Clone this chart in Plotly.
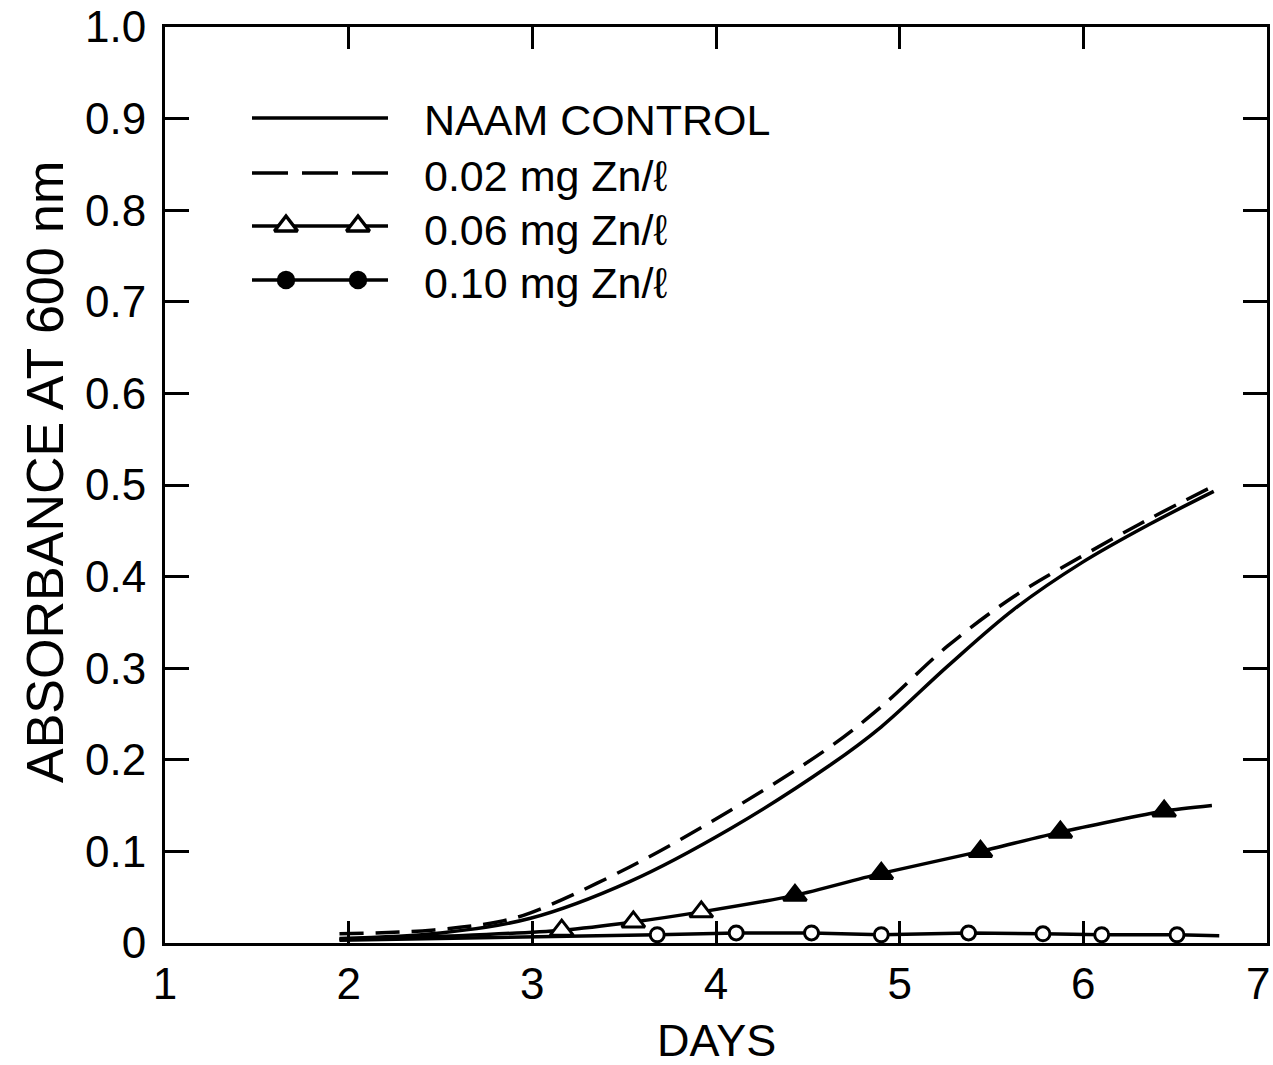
import plotly.graph_objects as go

# ---------------- data ----------------
control_days = [1.95, 2.5, 2.99, 3.53, 4.08, 4.62, 4.90, 5.26, 5.62, 5.99, 6.35, 6.71]
control_abs  = [0.005, 0.011, 0.027, 0.067, 0.125, 0.194, 0.236, 0.302, 0.364, 0.415, 0.456, 0.493]

zn002_days = [1.95, 2.45, 2.81, 2.99, 3.53, 4.08, 4.62, 4.90, 5.26, 5.62, 5.99, 6.35, 6.71]
zn002_abs  = [0.010, 0.014, 0.023, 0.033, 0.083, 0.145, 0.214, 0.258, 0.324, 0.378, 0.422, 0.462, 0.499]

zn006_days = [1.95, 2.6, 3.16, 3.55, 3.92, 4.43, 4.90, 5.44, 5.875, 6.44, 6.70]
zn006_abs  = [0.004, 0.008, 0.014, 0.023, 0.034, 0.052, 0.076, 0.100, 0.121, 0.144, 0.150]
zn006_first_marker = 2

zn010_days = [1.95, 2.6, 3.2, 3.68, 4.11, 4.52, 4.90, 5.375, 5.78, 6.10, 6.51, 6.74]
zn010_abs  = [0.003, 0.005, 0.007, 0.009, 0.011, 0.011, 0.009, 0.011, 0.010, 0.009, 0.009, 0.008]
zn010_first_marker = 3

x_ticks = [1, 2, 3, 4, 5, 6, 7]
x_ticktext = ["1", "2", "3", "4", "5", "6", "7"]
y_ticks = [0, 0.1, 0.2, 0.3, 0.4, 0.5, 0.6, 0.7, 0.8, 0.9, 1.0]
y_ticktext = ["0", "0.1", "0.2", "0.3", "0.4", "0.5", "0.6", "0.7", "0.8", "0.9", "1.0"]

legend_labels = ["NAAM CONTROL", "0.02 mg Zn/ℓ", "0.06 mg Zn/ℓ", "0.10 mg Zn/ℓ"]

x_title = "DAYS"
y_title = "ABSORBANCE AT 600 nm"

# ---------------- layout constants (page pixels) ----------------
W, H = 1273, 1065
PL, PR, PT, PB = 165, 1267, 27, 943   # plot area edges on the page
ML, MT, MR, MB = PL, PT, W - PR, H - PB
pw, ph = PR - PL, PB - PT

FONT = "Liberation Sans, Arial, sans-serif"
BLACK = "black"
LW = 3.5
TICK_FONT = dict(family=FONT, size=44, color=BLACK)


def px_to_paper(x, y):
    return (x - PL) / pw, (PB - y) / ph


fig = go.Figure()

fig.add_trace(go.Scatter(x=control_days, y=control_abs, mode="lines",
                         line=dict(color=BLACK, width=LW, shape="spline", smoothing=1.0),
                         showlegend=False, hoverinfo="skip"))
fig.add_trace(go.Scatter(x=zn002_days, y=zn002_abs, mode="lines",
                         line=dict(color=BLACK, width=LW, dash="24px,12px", shape="spline", smoothing=1.0),
                         showlegend=False, hoverinfo="skip"))
fig.add_trace(go.Scatter(x=zn006_days, y=zn006_abs, mode="lines",
                         line=dict(color=BLACK, width=LW, shape="spline", smoothing=0.6),
                         showlegend=False, hoverinfo="skip"))
tri_x = zn006_days[zn006_first_marker:-1]
tri_y = zn006_abs[zn006_first_marker:-1]
tri_fill = ["white" if d < 4.2 else BLACK for d in tri_x]
fig.add_trace(go.Scatter(x=tri_x, y=tri_y, mode="markers",
                         marker=dict(symbol="triangle-up", size=20, color=tri_fill,
                                     line=dict(color=BLACK, width=3)),
                         showlegend=False, hoverinfo="skip"))
fig.add_trace(go.Scatter(x=zn010_days, y=zn010_abs, mode="lines",
                         line=dict(color=BLACK, width=LW),
                         showlegend=False, hoverinfo="skip"))
fig.add_trace(go.Scatter(x=zn010_days[zn010_first_marker:-1], y=zn010_abs[zn010_first_marker:-1],
                         mode="markers",
                         marker=dict(symbol="circle", size=14, color="white",
                                     line=dict(color=BLACK, width=3)),
                         showlegend=False, hoverinfo="skip"))

# ---------------- custom legend (page-pixel overlay axes) ----------------
leg_x0, leg_x1 = 252, 388
leg_line_rows = [118, 173, 226, 280]
leg_text_rows = [120, 176, 230, 283]
leg_mk = [286, 358]
leg_text_x = 422


def ov(**kw):
    return go.Scatter(xaxis="x2", yaxis="y2", showlegend=False, hoverinfo="skip", **kw)


fig.add_trace(ov(x=[leg_x0, leg_x1], y=[leg_line_rows[0]] * 2, mode="lines",
                 line=dict(color=BLACK, width=LW)))
fig.add_trace(ov(x=[leg_x0, leg_x1], y=[leg_line_rows[1]] * 2, mode="lines",
                 line=dict(color=BLACK, width=LW, dash="36px,14px")))
fig.add_trace(ov(x=[leg_x0, leg_x1], y=[leg_line_rows[2]] * 2, mode="lines",
                 line=dict(color=BLACK, width=LW)))
fig.add_trace(ov(x=leg_mk, y=[leg_line_rows[2]] * 2, mode="markers",
                 marker=dict(symbol="triangle-up", size=20, color="white",
                             line=dict(color=BLACK, width=3.5))))
fig.add_trace(ov(x=[leg_x0, leg_x1], y=[leg_line_rows[3]] * 2, mode="lines",
                 line=dict(color=BLACK, width=LW)))
fig.add_trace(ov(x=leg_mk, y=[leg_line_rows[3]] * 2, mode="markers",
                 marker=dict(symbol="circle", size=15, color=BLACK,
                             line=dict(color=BLACK, width=3.5))))

annotations = []
for lab, ry in zip(legend_labels, leg_text_rows):
    ax, ay = px_to_paper(leg_text_x, ry)
    annotations.append(dict(x=ax, y=ay, xref="paper", yref="paper",
                            text=lab, showarrow=False, xanchor="left", yanchor="middle",
                            font=dict(family=FONT, size=43, color=BLACK)))
ax, ay = px_to_paper(45, 472)
annotations.append(dict(x=ax, y=ay, xref="paper", yref="paper",
                        text=y_title, textangle=-90, showarrow=False,
                        xanchor="center", yanchor="middle",
                        font=dict(family=FONT, size=52, color=BLACK)))
ax, ay = px_to_paper((PL + PR) / 2, 1040)
annotations.append(dict(x=ax, y=ay, xref="paper", yref="paper",
                        text=x_title, showarrow=False, xanchor="center", yanchor="middle",
                        font=dict(family=FONT, size=45, color=BLACK)))
# last x tick label sits at the right page edge: draw it right-aligned so it stays inside
annotations.append(dict(x=x_ticks[-1], y=0, xref="x", yref="paper",
                        text=x_ticktext[-1], showarrow=False, xanchor="right", yanchor="top",
                        xshift=5, yshift=-14, font=TICK_FONT))
shown_ticktext = x_ticktext[:-1] + [""]

axis_common = dict(showgrid=False, zeroline=False, showline=True, linecolor=BLACK, linewidth=3,
                   mirror="allticks", ticks="inside", tickcolor=BLACK, tickwidth=2.5,
                   ticklabeloverflow="allow", tickfont=TICK_FONT)

fig.update_layout(
    width=W, height=H,
    margin=dict(l=ML, r=MR, t=MT, b=MB, autoexpand=False),
    paper_bgcolor="white", plot_bgcolor="white",
    showlegend=False,
    xaxis=dict(range=[1, 7], tickvals=x_ticks, ticktext=shown_ticktext, ticklen=22,
               ticklabelstandoff=0, **axis_common),
    yaxis=dict(range=[0, 1], tickvals=y_ticks, ticktext=y_ticktext, ticklen=24,
               ticklabelstandoff=7, **axis_common),
    xaxis2=dict(range=[PL, PR], overlaying="x", anchor="y2", visible=False, fixedrange=True),
    yaxis2=dict(range=[PB, PT], overlaying="y", anchor="x2", visible=False, fixedrange=True),
    annotations=annotations,
)

fig.write_html("out.html",
               config={"displayModeBar": False},
               post_script="document.body.style.margin='0';document.body.style.overflow='hidden';")
